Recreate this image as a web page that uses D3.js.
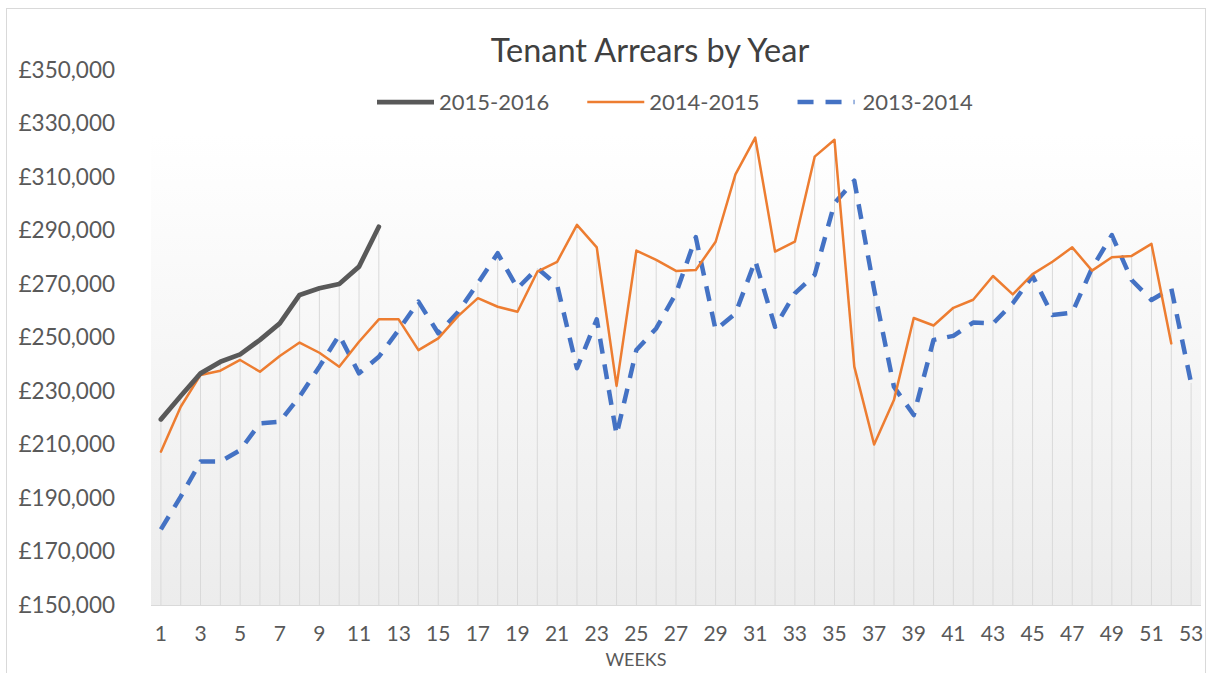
<!DOCTYPE html>
<html>
<head>
<meta charset="utf-8">
<script src="https://cdn.jsdelivr.net/npm/d3@7"></script>
<style>
  html, body { margin: 0; padding: 0; background: #ffffff; }
  svg { display: block; font-family: Lato, "Open Sans", sans-serif; }
</style>
</head>
<body>
<div id="chart"></div>
<script>
// Weeks 1..53 on the category axis
var weeks = [1, 2, 3, 4, 5, 6, 7, 8, 9, 10, 11, 12, 13, 14, 15, 16, 17, 18, 19, 20,
             21, 22, 23, 24, 25, 26, 27, 28, 29, 30, 31, 32, 33, 34, 35, 36, 37, 38, 39, 40,
             41, 42, 43, 44, 45, 46, 47, 48, 49, 50, 51, 52, 53];

var seriesNames = ["2015-2016", "2014-2015", "2013-2014"];

var arrears2015 = [219400, 228100, 236600, 240900, 243700, 249100, 255300, 265900, 268400, 270000,
                   276500, 291400];

var arrears2014 = [207300, 224100, 236000, 237600, 241600, 237200, 243100, 248100, 244300, 239100,
                   248400, 256800, 256800, 245300, 249700, 258000, 264700, 261500, 259600, 274600,
                   278300, 292100, 283700, 231900, 282500, 279000, 274900, 275200, 285800, 311000,
                   324700, 282100, 285800, 317600, 323900, 239100, 210000, 226600, 257300, 254500,
                   261100, 264100, 273000, 266100, 273700, 278300, 283700, 275000, 280000, 280500,
                   285000, 247800];

var arrears2013 = [178300, 190500, 203600, 203600, 207900, 217900, 218500, 227900, 239100, 250900,
                   236600, 242800, 252800, 263400, 251600, 259500, 270300, 281500, 268400, 275900,
                   269600, 238500, 256800, 213600, 245300, 253400, 266500, 287500, 252800, 259000,
                   278700, 254000, 266500, 273400, 300200, 308600, 268000, 231600, 221000, 249100,
                   250600, 255600, 255200, 262800, 273000, 258400, 259300, 275900, 288300, 271500,
                   264000, 268400, 233000];

var yTicks = [150000, 170000, 190000, 210000, 230000, 250000, 270000, 290000, 310000, 330000, 350000];
var xTickWeeks = weeks.filter(function(w) { return w % 2 === 1; });

var width = 1213, height = 673;

var svg = d3.select("#chart").append("svg")
    .attr("width", width)
    .attr("height", height);

// chart border
svg.append("rect")
    .attr("x", 6.5).attr("y", 8.5)
    .attr("width", 1199).attr("height", 700)
    .attr("fill", "#ffffff")
    .attr("stroke", "#d9d9d9");

var x = d3.scaleBand().domain(weeks).range([151, 1201]);
var y = d3.scaleLinear().domain([150000, 350000]).range([605, 70]);
var cx = function(w) { return x(w) + x.bandwidth() / 2; };

// plot area gradient
var grad = svg.append("defs").append("linearGradient")
    .attr("id", "plot-grad")
    .attr("x1", "0%").attr("y1", "0%").attr("x2", "0%").attr("y2", "100%");
grad.append("stop").attr("offset", "0%").attr("stop-color", "#ffffff");
grad.append("stop").attr("offset", "100%").attr("stop-color", "#ececec");

svg.append("rect")
    .attr("x", x.range()[0])
    .attr("y", 135)
    .attr("width", x.range()[1] - x.range()[0])
    .attr("height", y(150000) - 135)
    .attr("fill", "url(#plot-grad)");

// build rows
var series = [
    { name: seriesNames[2], values: arrears2013, color: "#4472C4", width: 4.5, dash: "15,11" },
    { name: seriesNames[1], values: arrears2014, color: "#ED7D31", width: 2.5, dash: null },
    { name: seriesNames[0], values: arrears2015, color: "#595959", width: 4.75, dash: null }
];

// drop lines: from highest point of each week down to the axis
var dropTops = weeks.map(function(w, i) {
    return d3.max(series, function(s) { return s.values[i]; });
});

svg.append("g").selectAll("line")
    .data(weeks)
    .enter().append("line")
    .attr("x1", function(w) { return cx(w); })
    .attr("x2", function(w) { return cx(w); })
    .attr("y1", function(w, i) { return y(dropTops[i]); })
    .attr("y2", y(150000))
    .attr("stroke", "#d9d9d9")
    .attr("stroke-width", 1);

// x axis line
svg.append("line")
    .attr("x1", x.range()[0]).attr("x2", x.range()[1])
    .attr("y1", y(150000) + 0.5).attr("y2", y(150000) + 0.5)
    .attr("stroke", "#d9d9d9");

// y axis labels
var fmt = d3.format(",");
svg.append("g").selectAll("text")
    .data(yTicks)
    .enter().append("text")
    .attr("x", 115)
    .attr("y", function(d) { return y(d); })
    .attr("dy", "0.35em")
    .attr("text-anchor", "end")
    .attr("fill", "#595959")
    .style("font-size", "22.5px")
    .text(function(d) { return "\u00a3" + fmt(d); });

// x axis labels
svg.append("g").selectAll("text")
    .data(xTickWeeks)
    .enter().append("text")
    .attr("x", function(w) { return cx(w); })
    .attr("y", 634)
    .attr("dy", "0.35em")
    .attr("text-anchor", "middle")
    .attr("fill", "#595959")
    .style("font-size", "21px")
    .text(function(w) { return w; });

svg.append("text")
    .attr("x", 636)
    .attr("y", 660)
    .attr("dy", "0.35em")
    .attr("text-anchor", "middle")
    .attr("fill", "#595959")
    .style("font-size", "18px")
    .text("WEEKS");

// lines
var line = d3.line()
    .x(function(d, i) { return cx(weeks[i]); })
    .y(function(d) { return y(d); });

svg.append("g").selectAll("path")
    .data(series)
    .enter().append("path")
    .attr("d", function(s) { return line(s.values); })
    .attr("fill", "none")
    .attr("stroke", function(s) { return s.color; })
    .attr("stroke-width", function(s) { return s.width; })
    .attr("stroke-dasharray", function(s) { return s.dash; })
    .attr("stroke-linejoin", "round")
    .attr("stroke-linecap", function(s) { return s.dash ? "butt" : "round"; });

// title
svg.append("text")
    .attr("x", 650)
    .attr("y", 51)
    .attr("dy", "0.35em")
    .attr("text-anchor", "middle")
    .attr("fill", "#404040")
    .style("font-size", "32.5px")
    .text("Tenant Arrears by Year");

// legend, in the order shown on the chart
var legendOrder = series.slice().reverse();
var lx = 377;
legendOrder.forEach(function(s) {
    var g = svg.append("g").attr("transform", "translate(" + lx + ",102)");
    g.append("line")
        .attr("x1", 0).attr("x2", 57)
        .attr("y1", 0).attr("y2", 0)
        .attr("stroke", s.color)
        .attr("stroke-width", s.width)
        .attr("stroke-dasharray", s.dash ? "16,12" : null);
    var t = g.append("text")
        .attr("x", s.dash ? 65 : 62)
        .attr("dy", "0.35em")
        .attr("fill", "#595959")
        .style("font-size", "22px")
        .text(s.name);
    lx += (s.dash ? 65 : 62) + t.node().getComputedTextLength() + 38;
});
</script>
</body>
</html>
